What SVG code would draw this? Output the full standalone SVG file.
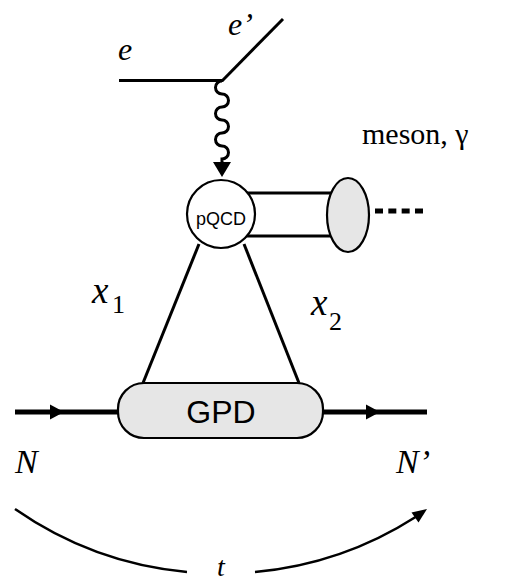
<svg xmlns="http://www.w3.org/2000/svg" width="510" height="583" viewBox="0 0 510 583">
<style>
.ln{fill:none;stroke:#000;stroke-width:3}
.thick{fill:none;stroke:#000;stroke-width:5}
.it{font-family:"Liberation Serif","Times New Roman",serif;font-style:italic;fill:#000}
.rm{font-family:"Liberation Serif","Times New Roman",serif;fill:#000}
.sans{font-family:"Liberation Sans",Arial,sans-serif;fill:#000}
.grey{fill:#e6e6e6;stroke:#000;stroke-width:2.2}
</style>
<rect width="510" height="583" fill="#fff"/>
<g id="connectors">
  <line class="ln" x1="119" y1="80.5" x2="223" y2="80.5"/>
  <line class="ln" x1="222" y1="81" x2="283" y2="19"/>
  <path class="ln" d="M222,81 a6.5,6.5 0 0 0 0,13 a6.5,6.5 0 0 1 0,13 a6.5,6.5 0 0 0 0,13 a6.5,6.5 0 0 1 0,13 a6.5,6.5 0 0 0 0,13 a6.5,6.5 0 0 1 0,13 l0,3"/>
  <polygon points="213,162 231,162 222,177" fill="#000"/>
  <line class="ln" x1="199" y1="244" x2="143" y2="383"/>
  <line class="ln" x1="244" y1="244" x2="299" y2="383"/>
  <line class="ln" x1="245" y1="193" x2="340" y2="193"/>
  <line class="ln" x1="245" y1="236" x2="340" y2="236"/>
  <line x1="375" y1="211" x2="423" y2="211" stroke="#000" stroke-width="5" stroke-dasharray="8,5.33"/>
  <line class="thick" x1="15" y1="412" x2="427" y2="412"/>
  <polygon points="50,404.5 64,412 50,419.5" fill="#000"/>
  <polygon points="366,404.5 380,412 366,419.5" fill="#000"/>
  <path fill="none" stroke="#000" stroke-width="2.5" d="M15,509 A359,359 0 0 0 187,572"/>
  <path fill="none" stroke="#000" stroke-width="2.5" d="M255,572 A359,359 0 0 0 416,516.7"/>
  <polygon points="427,509 418.5,522.5 411.5,512.5" fill="#000"/>
</g>
<g id="pqcd">
  <circle cx="221" cy="214" r="34" fill="#fff" stroke="#000" stroke-width="2.2"/>
  <text class="sans" x="221" y="225" font-size="18" text-anchor="middle">pQCD</text>
</g>
<g id="meson">
  <ellipse class="grey" cx="348" cy="215" rx="21" ry="37"/>
</g>
<g id="gpd">
  <rect class="grey" x="118" y="383" width="205" height="55" rx="26" ry="26"/>
  <text class="sans" x="221" y="423" font-size="32" text-anchor="middle">GPD</text>
</g>
<g id="labels">
  <text class="it" x="118" y="60" font-size="32">e</text>
  <text class="it" x="228" y="35" font-size="32">e’</text>
  <text class="rm" x="362" y="144" font-size="30">meson, γ</text>
  <text class="it" x="92" y="303" font-size="37">x</text>
  <text class="rm" x="112" y="313" font-size="26">1</text>
  <text class="it" x="311" y="315" font-size="37">x</text>
  <text class="rm" x="329" y="330" font-size="26">2</text>
  <text class="it" x="15" y="473" font-size="34">N</text>
  <text class="it" x="396" y="473" font-size="34">N’</text>
  <text class="it" x="217" y="576" font-size="28">t</text>
</g>
</svg>
